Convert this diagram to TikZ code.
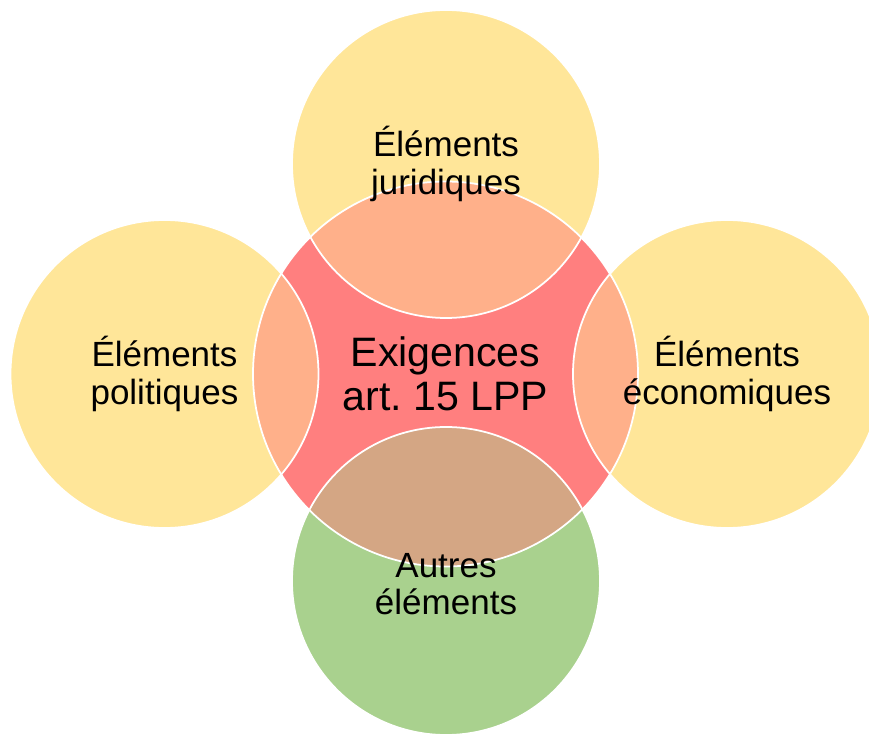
\documentclass[tikz,border=0pt]{standalone}
\usepackage{fontspec}
\setmainfont{Liberation Sans}
\frenchspacing
\definecolor{giallo}{HTML}{FFE699}
\definecolor{rosso}{HTML}{FF7F7F}
\definecolor{arancio}{HTML}{FFB08A}
\definecolor{verde}{HTML}{A9D18E}
\definecolor{bruno}{HTML}{D4A684}
\tikzset{
  cerchio/.style={circle, inner sep=0pt, minimum size=3.08cm},
  testo/.style={align=center, font=\fontsize{9.96}{10.7}\selectfont},
}
\begin{document}
\begin{tikzpicture}
      \clip (0,0) rectangle (8.69,7.36);
      \fill[white] (0,0) rectangle (8.69,7.36);
      % Cerchi
      \node[cerchio, fill=rosso, minimum size=3.85cm] (ctr) at (4.455,3.62) {};
      \node[cerchio, fill=giallo] (jur) at (4.46,5.72) {};
      \node[cerchio, fill=giallo] (pol) at (1.645,3.62) {};
      \node[cerchio, fill=giallo] (eco) at (7.27,3.62) {};
      \node[cerchio, fill=verde] (aut) at (4.46,1.55) {};
      % Intersezioni
      \begin{scope}
        \clip (ctr.center) circle (1.925);
        \fill[arancio] (jur.center) circle (1.54);
        \fill[arancio] (pol.center) circle (1.54);
        \fill[arancio] (eco.center) circle (1.54);
        \fill[bruno] (aut.center) circle (1.54);
      \end{scope}
      % Bordi
      \draw[white, line width=0.5pt] (ctr.center) circle (1.925);
      \foreach \c in {jur,pol,eco,aut}
        \draw[white, line width=0.5pt] (\c.center) circle (1.54);
      % Testi
      \node[testo, font=\fontsize{11.7}{12.6}\selectfont] (ctrtxt) at (ctr) {Exigences\\art. 15 LPP};
      \node[testo] (jurtxt) at (jur) {Éléments\\juridiques};
      \node[testo] (poltxt) at (pol) {Éléments\\politiques};
      \node[testo] (ecotxt) at (eco) {Éléments\\économiques};
      \node[testo] (auttxt) at ([yshift=-0.03cm]aut) {Autres\\éléments};
    \end{tikzpicture}
\end{document}
